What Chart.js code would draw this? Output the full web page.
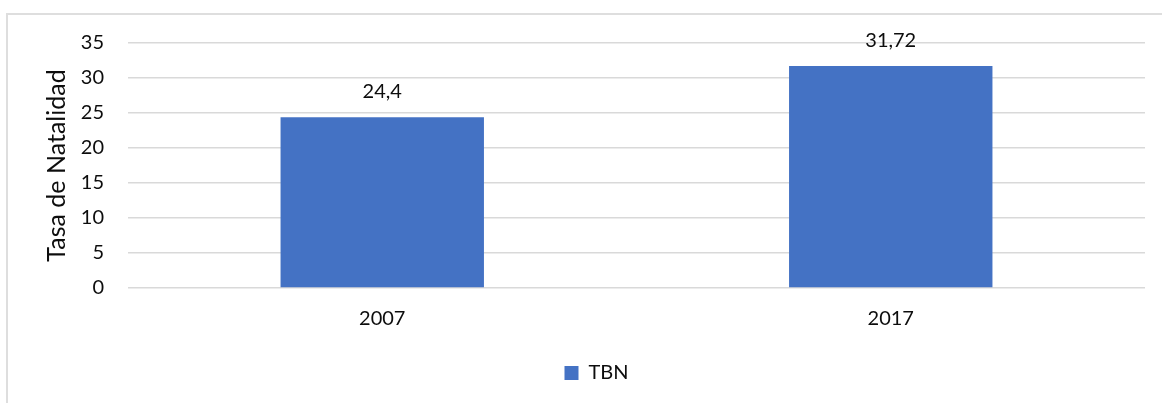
<!DOCTYPE html>
<html>
<head>
<meta charset="utf-8">
<script src="https://cdn.jsdelivr.net/npm/chart.js@4"></script>
<style>
  html, body { margin: 0; padding: 0; background: #fff; width: 1162px; height: 403px; overflow: hidden; }
  #frame { position: absolute; left: 6px; top: 13px; width: 1200px; height: 500px; border: 2px solid #dedede; box-sizing: border-box; }
  #wrap { position: absolute; left: 0; top: 0; width: 1162px; height: 403px; }
</style>
</head>
<body>
<div id="frame"></div>
<div id="wrap"><canvas id="c" width="1162" height="403"></canvas></div>
<script>
const categories = ["2007", "2017"];
const seriesName = "TBN";
const tbnValues = [24.4, 31.72];
const valueLabels = ["24,4", "31,72"];
const yTicks = [0, 5, 10, 15, 20, 25, 30, 35];

const FONT = "Lato, 'Noto Sans', sans-serif";
const TEXT = "#0d0d0d";

const dataLabels = {
  id: "dataLabels",
  afterDatasetsDraw(chart) {
    const ctx = chart.ctx;
    const meta = chart.getDatasetMeta(0);
    ctx.save();
    ctx.font = "20px " + FONT;
    ctx.fillStyle = TEXT;
    ctx.textAlign = "center";
    ctx.textBaseline = "alphabetic";
    meta.data.forEach((bar, i) => {
      ctx.fillText(valueLabels[i], bar.x, bar.y - 19);
    });
    ctx.restore();
  }
};

const legendShift = {
  id: "legendShift",
  afterLayout(chart) {
    const lg = chart.legend;
    if (lg) { lg.left += 24; lg.right += 24; }
  }
};

new Chart(document.getElementById("c"), {
  type: "bar",
  data: {
    labels: categories,
    datasets: [{
      label: seriesName,
      data: tbnValues,
      backgroundColor: "#4472C4",
      borderWidth: 0,
      categoryPercentage: 1.0,
      barPercentage: 0.4
    }]
  },
  options: {
    responsive: false,
    animation: false,
    events: [],
    layout: { padding: { top: 43, right: 17, left: 0, bottom: 10 } },
    plugins: {
      tooltip: { enabled: false },
      legend: {
        display: true,
        position: "bottom",
        labels: {
          boxWidth: 14,
          boxHeight: 14,
          color: TEXT,
          font: { family: FONT, size: 20 },
          padding: 10
        }
      }
    },
    scales: {
      x: {
        grid: { display: false, drawTicks: false },
        border: { display: false },
        ticks: { color: TEXT, font: { family: FONT, size: 20 }, padding: 19, maxRotation: 0 },
        afterFit(scale) { scale.height = 65; }
      },
      y: {
        min: 0,
        max: 35,
        afterBuildTicks(scale) { scale.ticks = yTicks.map(v => ({ value: v })); },
        grid: { color: "#d9d9d9", lineWidth: 1.5, drawTicks: false },
        border: { display: false },
        ticks: { color: TEXT, font: { family: FONT, size: 20 }, padding: 24 },
        title: {
          display: true,
          text: "Tasa de Natalidad",
          color: TEXT,
          font: { family: FONT, size: 25 },
          padding: { top: 42, bottom: 0 }
        },
        afterFit(scale) { scale.width = 128; }
      }
    }
  },
  plugins: [dataLabels, legendShift]
});
</script>
</body>
</html>
